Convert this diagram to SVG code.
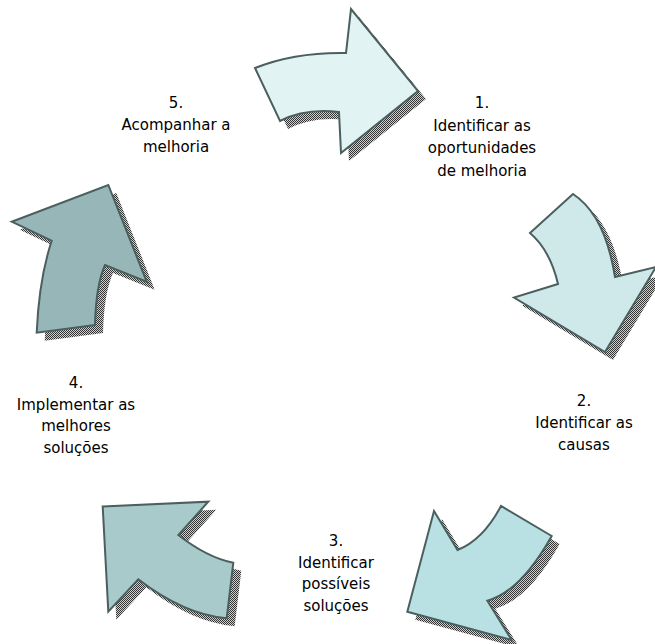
<svg xmlns="http://www.w3.org/2000/svg" width="655" height="644" viewBox="0 0 655 644">
  <defs>
    <!-- fine checker used for the drop shadows -->
    <pattern id="dots" width="2" height="2" patternUnits="userSpaceOnUse">
      <rect width="2" height="2" fill="#d0d0d0"/>
      <rect width="1" height="1" fill="#333333"/>
      <rect x="1" y="1" width="1" height="1" fill="#333333"/>
    </pattern>
  </defs>
  <style>
    .shadow { fill: url(#dots); stroke: none; }
    .arrow { stroke: #4b5f5f; stroke-width: 2; stroke-linejoin: miter; }
    .label { font-family: "DejaVu Sans", "Liberation Sans", sans-serif; font-size: 15px; fill: #000; text-anchor: middle; }
  </style>
  <rect width="655" height="644" fill="#ffffff"/>

  <g id="connectors">
    <!-- step 1 -> 2 (top) -->
    <g id="arrow1">
      <path class="shadow" transform="translate(8,8)" d="M255,68 Q295,52 346,53 L351,9 L418,91 L341,153 L339,112 Q305,108 280,121 Z"/>
      <path class="arrow" fill="#e2f3f3" d="M255,68 Q295,52 346,53 L351,9 L418,91 L341,153 L339,112 Q305,108 280,121 Z"/>
    </g>
    <!-- step 2 -> 3 (right) -->
    <g id="arrow2">
      <path class="shadow" transform="translate(8,8)" d="M530,233 L573,194 Q605,215 615,277 L656,267 L605,352 L514,297.5 L558,284 Q550,250 530,233 Z"/>
      <path class="arrow" fill="#cfe9eb" d="M530,233 L573,194 Q605,215 615,277 L656,267 L605,352 L514,297.5 L558,284 Q550,250 530,233 Z"/>
    </g>
    <!-- step 3 -> 4 (bottom right) -->
    <g id="arrow3">
      <path class="shadow" transform="translate(8,8)" d="M434,511 L457.5,550 Q483,540 501,506 L551.7,536 Q520.5,591.6 487.3,600.7 L511.7,640 L407.3,611.7 Z"/>
      <path class="arrow" fill="#b9e0e3" d="M434,511 L457.5,550 Q483,540 501,506 L551.7,536 Q520.5,591.6 487.3,600.7 L511.7,640 L407.3,611.7 Z"/>
    </g>
    <!-- step 4 -> 5 (bottom left) -->
    <g id="arrow4">
      <path class="shadow" transform="translate(8,8)" d="M102.7,506.5 L208.3,501.7 L178.3,535 Q207.6,557.8 233.3,562.7 L226.7,618.3 Q184.1,614.6 138.3,579.3 L108.3,611.7 Z"/>
      <path class="arrow" fill="#a9cacb" d="M102.7,506.5 L208.3,501.7 L178.3,535 Q207.6,557.8 233.3,562.7 L226.7,618.3 Q184.1,614.6 138.3,579.3 L108.3,611.7 Z"/>
    </g>
    <!-- step 5 -> 1 (left) -->
    <g id="arrow5">
      <path class="shadow" transform="translate(8,8)" d="M11.7,221.7 L108.3,185 L146.7,281.7 L105,265 Q96,285 95,325 L36.7,332.7 Q39,279 51.7,240.7 Z"/>
      <path class="arrow" fill="#97b6b7" d="M11.7,221.7 L108.3,185 L146.7,281.7 L105,265 Q96,285 95,325 L36.7,332.7 Q39,279 51.7,240.7 Z"/>
    </g>
  </g>

  <g id="step1">
    <text class="label" x="482" y="108">1.</text>
    <text class="label" x="482" y="130.5">Identificar as</text>
    <text class="label" x="482" y="153">oportunidades</text>
    <text class="label" x="482" y="175.5">de melhoria</text>
  </g>
  <g id="step2">
    <text class="label" x="584" y="406">2.</text>
    <text class="label" x="584" y="428">Identificar as</text>
    <text class="label" x="584" y="450">causas</text>
  </g>
  <g id="step3">
    <text class="label" x="336" y="546">3.</text>
    <text class="label" x="336" y="567.5">Identificar</text>
    <text class="label" x="336" y="589">possíveis</text>
    <text class="label" x="336" y="610.5">soluções</text>
  </g>
  <g id="step4">
    <text class="label" x="76" y="388">4.</text>
    <text class="label" x="76" y="409.5">Implementar as</text>
    <text class="label" x="76" y="431">melhores</text>
    <text class="label" x="76" y="452.5">soluções</text>
  </g>
  <g id="step5">
    <text class="label" x="176" y="108">5.</text>
    <text class="label" x="176" y="130">Acompanhar a</text>
    <text class="label" x="176" y="152">melhoria</text>
  </g>
</svg>
